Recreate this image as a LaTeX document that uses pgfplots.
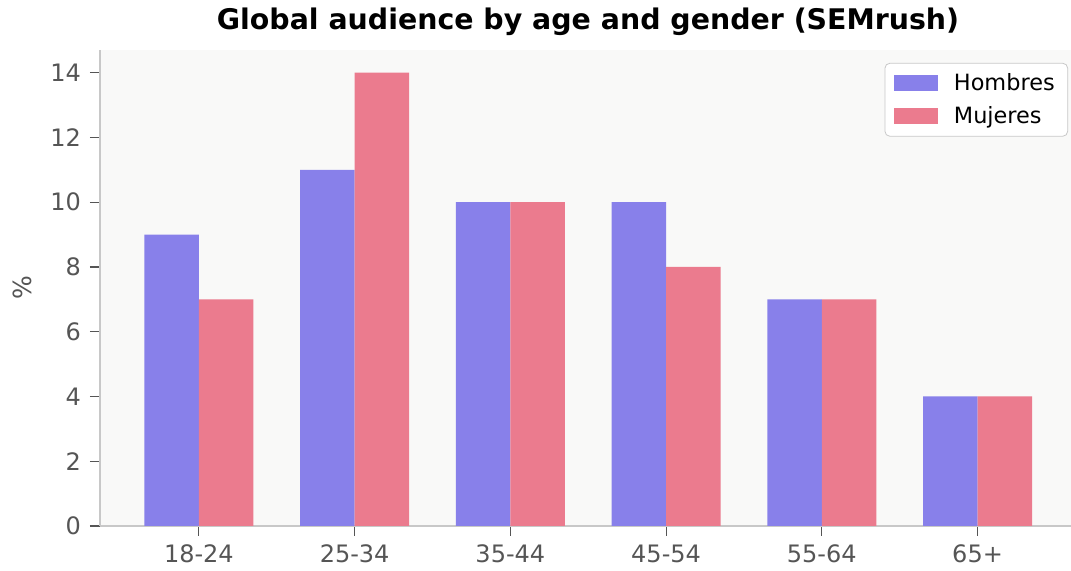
\documentclass[border=0pt]{standalone}
\usepackage{pgfplots}
\pgfplotsset{compat=1.18}
\usepackage{fontspec}
\setmainfont{DejaVu Sans}
\definecolor{hom}{HTML}{8880EA}
\definecolor{muj}{HTML}{EB7B8E}
\definecolor{bg}{HTML}{F9F9F8}
\definecolor{spine}{HTML}{C8C8C8}
\definecolor{tickc}{HTML}{555555}
\begin{document}
\begin{tikzpicture}
\begin{axis}[
  scale only axis,
  width=485.5pt, height=238pt,
  xmin=-0.635, xmax=5.6,
  ymin=0, ymax=14.7,
  axis background/.style={fill=bg},
  axis x line*=bottom, axis y line*=left,
  axis line style={spine, line width=1pt},
  xtick={0,1,2,3,4,5},
  xticklabels={18-24,25-34,35-44,45-54,55-64,65+},
  ytick={0,2,...,14},
  tick style={tickc, line width=0.6pt},
  major tick length=5pt,
  tick align=outside,
  /pgf/number format/assume math mode=true,
  ticklabel style={font=\fontsize{12}{14}\selectfont, text=tickc},
  yticklabel style={xshift=-1pt},
  xticklabel style={yshift=-1pt},
  ylabel={\%},
  every axis y label/.style={at={(rel axis cs:0,0.5)}, xshift=-39pt, rotate=90, anchor=center, font=\fontsize{12.5}{14}\selectfont, text=tickc},
  ybar, bar width=0.35,
  legend style={at={(0.997,0.973)}, anchor=north east, draw=spine, fill=white, rounded corners=2.5pt,
    font=\fontsize{11.2}{13}\selectfont, row sep=2.5pt, inner xsep=4.5pt, inner ysep=3pt,
    /tikz/every odd column/.style={column sep=6pt}},
  legend image code/.code={\fill[#1, sharp corners] (0pt,-4pt) rectangle (22pt,4pt);},
  legend cell align=left,
]
\addplot[fill=hom, draw=none, bar shift=-0.175] coordinates {(0,9) (1,11) (2,10) (3,10) (4,7) (5,4)};
\addplot[fill=muj, draw=none, bar shift=0.175] coordinates {(0,7) (1,14) (2,10) (3,8) (4,7) (5,4)};
\legend{Hombres, Mujeres}
\end{axis}
\node[font=\bfseries\fontsize{14.2}{16}\selectfont] at (244pt,252pt) {Global audience by age and gender (SEMrush)};
\pgfresetboundingbox
\path (-50pt,-22.5pt) rectangle (485.5pt,263pt);
\end{tikzpicture}
\end{document}
